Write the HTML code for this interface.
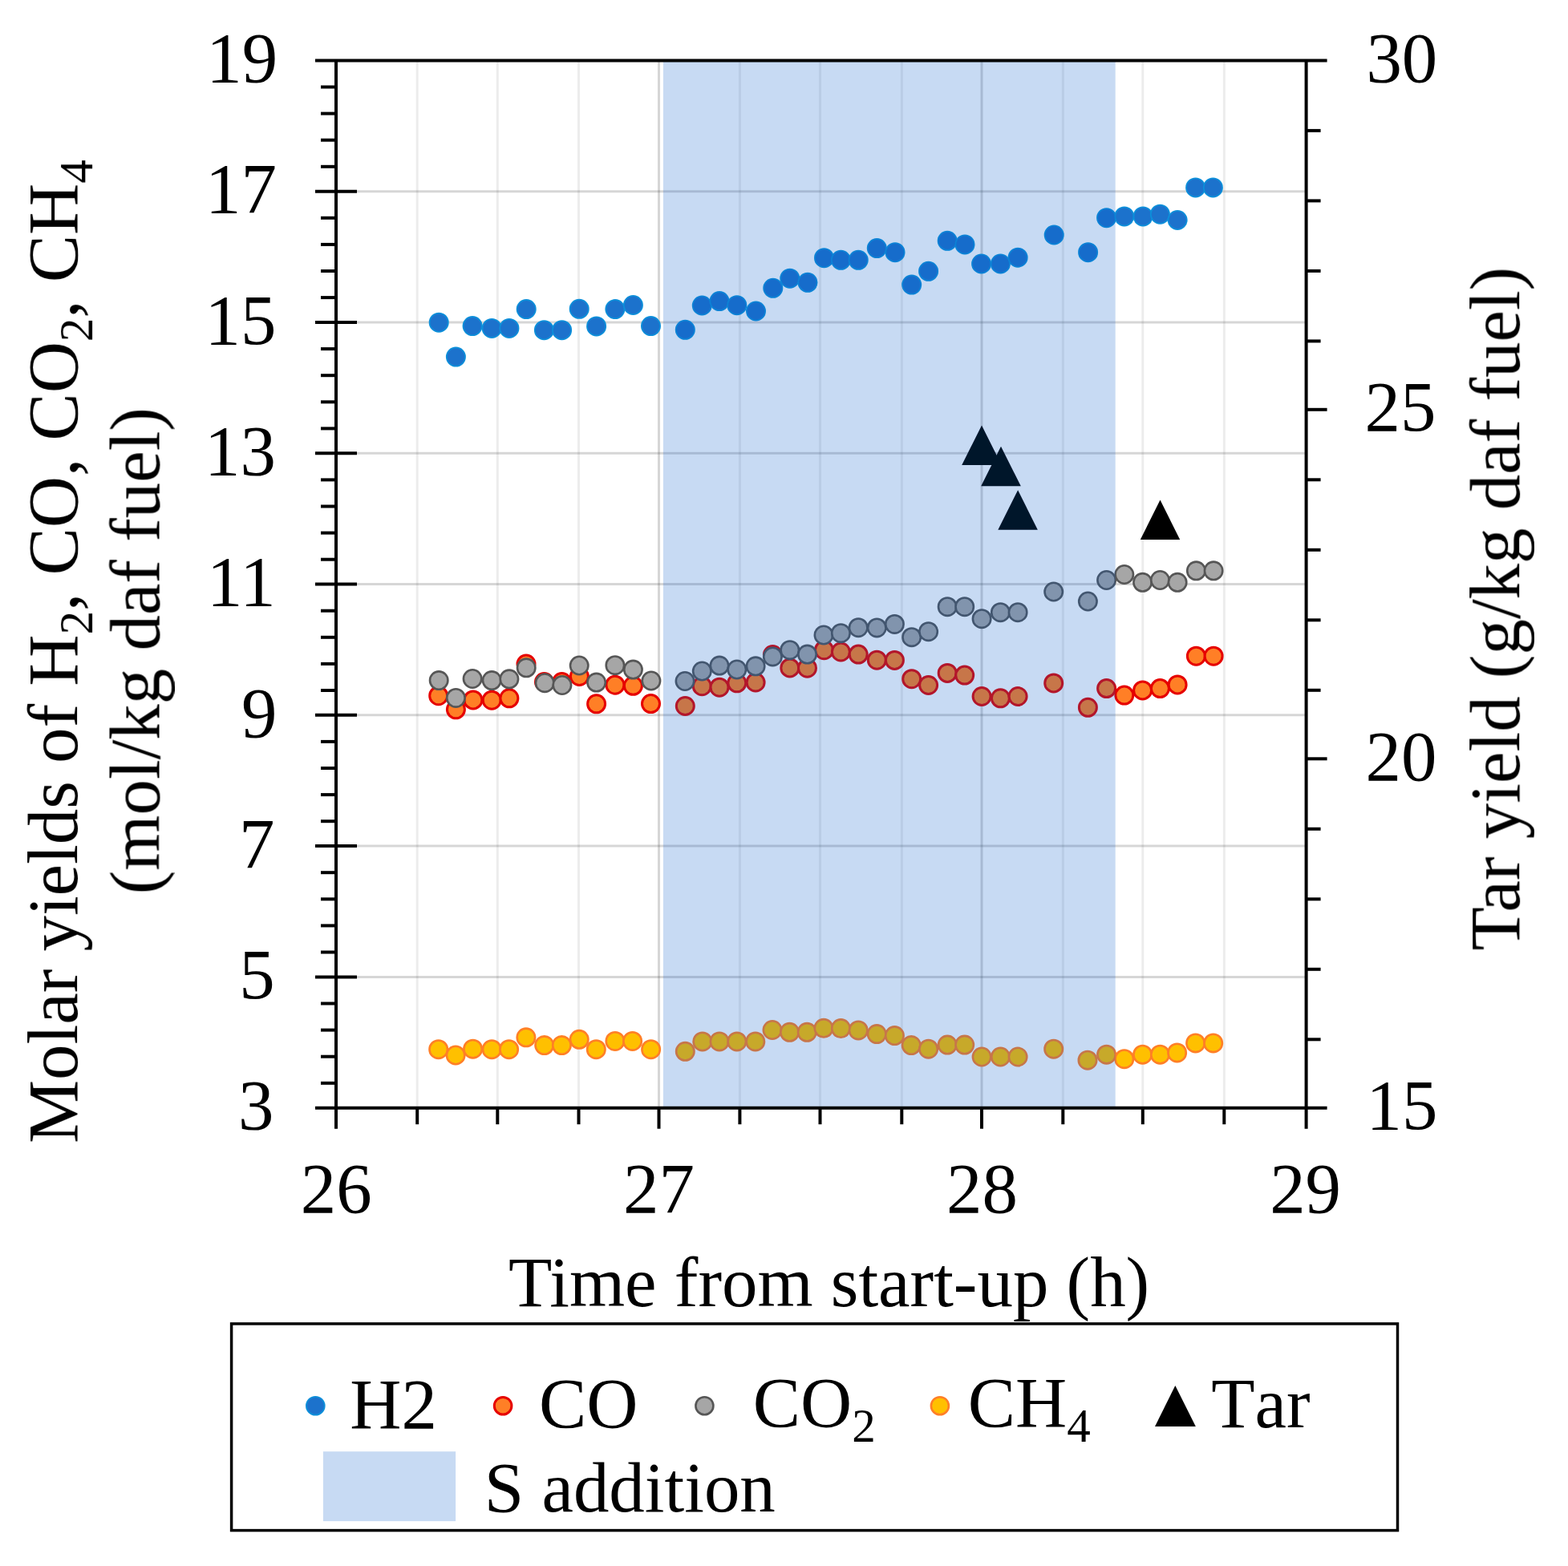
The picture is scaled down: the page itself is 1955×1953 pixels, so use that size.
<!DOCTYPE html>
<html><head><meta charset="utf-8"><title>Molar yields and tar yield vs time</title>
<style>
html,body{margin:0;padding:0;background:#fff;}
svg{display:block;}
text{font-family:"Liberation Serif", "Times New Roman", serif;fill:#000;}
.nk{font-kerning:none;font-feature-settings:"kern" 0;}
</style></head><body>
<svg width="1955" height="1953" viewBox="0 0 1955 1953">
<defs><filter id="soft" x="0" y="0" width="100%" height="100%" filterUnits="userSpaceOnUse"><feGaussianBlur stdDeviation="0.5"/></filter></defs>
<rect x="0" y="0" width="1955" height="1953" fill="#fff"/>
<g filter="url(#soft)">
<g stroke="#000" stroke-opacity="0.075" stroke-width="3"><line x1="520.2" y1="75.4" x2="520.2" y2="1381.7"/><line x1="620.3" y1="75.4" x2="620.3" y2="1381.7"/><line x1="721.5" y1="75.4" x2="721.5" y2="1381.7"/><line x1="922.4" y1="75.4" x2="922.4" y2="1381.7"/><line x1="1022.5" y1="75.4" x2="1022.5" y2="1381.7"/><line x1="1124.3" y1="75.4" x2="1124.3" y2="1381.7"/><line x1="1325.3" y1="75.4" x2="1325.3" y2="1381.7"/><line x1="1424.8" y1="75.4" x2="1424.8" y2="1381.7"/><line x1="1526.3" y1="75.4" x2="1526.3" y2="1381.7"/></g>
<g stroke="#000" stroke-opacity="0.16" stroke-width="3"><line x1="821.5" y1="75.4" x2="821.5" y2="1381.7"/><line x1="1224.0" y1="75.4" x2="1224.0" y2="1381.7"/><line x1="419.0" y1="1218.4" x2="1628.6" y2="1218.4"/><line x1="419.0" y1="1055.1" x2="1628.6" y2="1055.1"/><line x1="419.0" y1="891.8" x2="1628.6" y2="891.8"/><line x1="419.0" y1="728.6" x2="1628.6" y2="728.6"/><line x1="419.0" y1="565.3" x2="1628.6" y2="565.3"/><line x1="419.0" y1="402.0" x2="1628.6" y2="402.0"/><line x1="419.0" y1="238.7" x2="1628.6" y2="238.7"/></g>
<g fill="#FFC000" stroke="#FF7F27" stroke-width="2.6"><circle cx="546.7" cy="1308.7" r="11.20"/><circle cx="568.1" cy="1316.0" r="11.20"/><circle cx="589.6" cy="1308.2" r="11.20"/><circle cx="613.2" cy="1308.7" r="11.20"/><circle cx="634.6" cy="1308.7" r="11.20"/><circle cx="655.9" cy="1293.8" r="11.20"/><circle cx="678.7" cy="1303.6" r="11.20"/><circle cx="700.4" cy="1303.6" r="11.20"/><circle cx="722.2" cy="1296.3" r="11.20"/><circle cx="743.3" cy="1308.7" r="11.20"/><circle cx="766.9" cy="1298.4" r="11.20"/><circle cx="788.6" cy="1298.4" r="11.20"/><circle cx="811.6" cy="1308.7" r="11.20"/><circle cx="854.3" cy="1311.3" r="11.20"/><circle cx="875.8" cy="1298.9" r="11.20"/><circle cx="897.0" cy="1298.9" r="11.20"/><circle cx="918.8" cy="1298.9" r="11.20"/><circle cx="941.8" cy="1298.9" r="11.20"/><circle cx="963.0" cy="1284.5" r="11.20"/><circle cx="984.5" cy="1287.3" r="11.20"/><circle cx="1006.2" cy="1287.3" r="11.20"/><circle cx="1027.0" cy="1282.3" r="11.20"/><circle cx="1048.4" cy="1282.6" r="11.20"/><circle cx="1070.2" cy="1284.9" r="11.20"/><circle cx="1093.2" cy="1289.6" r="11.20"/><circle cx="1115.4" cy="1291.6" r="11.20"/><circle cx="1136.2" cy="1303.6" r="11.20"/><circle cx="1157.6" cy="1308.2" r="11.20"/><circle cx="1181.2" cy="1303.1" r="11.20"/><circle cx="1202.7" cy="1303.1" r="11.20"/><circle cx="1224.1" cy="1318.0" r="11.20"/><circle cx="1247.4" cy="1318.0" r="11.20"/><circle cx="1269.1" cy="1318.0" r="11.20"/><circle cx="1313.7" cy="1308.2" r="11.20"/><circle cx="1356.0" cy="1322.2" r="11.20"/><circle cx="1379.6" cy="1315.2" r="11.20"/><circle cx="1401.8" cy="1320.7" r="11.20"/><circle cx="1424.6" cy="1315.2" r="11.20"/><circle cx="1446.4" cy="1315.2" r="11.20"/><circle cx="1467.6" cy="1312.9" r="11.20"/><circle cx="1490.6" cy="1300.9" r="11.20"/><circle cx="1512.7" cy="1300.9" r="11.20"/></g>
<g fill="#FF7F27" stroke="#E60000" stroke-width="3.0"><circle cx="546.7" cy="867.7" r="11.00"/><circle cx="568.4" cy="884.8" r="11.00"/><circle cx="589.9" cy="872.9" r="11.00"/><circle cx="613.2" cy="873.2" r="11.00"/><circle cx="634.9" cy="870.8" r="11.00"/><circle cx="656.0" cy="828.0" r="11.00"/><circle cx="678.5" cy="850.5" r="11.00"/><circle cx="700.5" cy="850.5" r="11.00"/><circle cx="722.4" cy="843.5" r="11.00"/><circle cx="743.6" cy="877.8" r="11.00"/><circle cx="766.9" cy="854.2" r="11.00"/><circle cx="789.4" cy="855.3" r="11.00"/><circle cx="811.5" cy="877.6" r="11.00"/><circle cx="854.3" cy="880.5" r="11.00"/><circle cx="875.3" cy="855.7" r="11.00"/><circle cx="897.0" cy="857.2" r="11.00"/><circle cx="918.8" cy="851.8" r="11.00"/><circle cx="942.1" cy="851.0" r="11.00"/><circle cx="963.4" cy="816.5" r="11.00"/><circle cx="984.8" cy="832.9" r="11.00"/><circle cx="1006.5" cy="833.2" r="11.00"/><circle cx="1027.5" cy="810.7" r="11.00"/><circle cx="1048.4" cy="813.0" r="11.00"/><circle cx="1070.2" cy="816.1" r="11.00"/><circle cx="1093.3" cy="823.2" r="11.00"/><circle cx="1115.4" cy="823.4" r="11.00"/><circle cx="1136.7" cy="846.7" r="11.00"/><circle cx="1157.6" cy="854.5" r="11.00"/><circle cx="1181.2" cy="839.4" r="11.00"/><circle cx="1202.7" cy="842.1" r="11.00"/><circle cx="1224.1" cy="868.5" r="11.00"/><circle cx="1247.4" cy="870.8" r="11.00"/><circle cx="1269.1" cy="868.5" r="11.00"/><circle cx="1313.7" cy="851.9" r="11.00"/><circle cx="1356.4" cy="882.3" r="11.00"/><circle cx="1379.6" cy="858.6" r="11.00"/><circle cx="1401.8" cy="867.1" r="11.00"/><circle cx="1424.6" cy="860.9" r="11.00"/><circle cx="1446.4" cy="858.6" r="11.00"/><circle cx="1468.1" cy="853.9" r="11.00"/><circle cx="1491.4" cy="818.2" r="11.00"/><circle cx="1513.1" cy="818.2" r="11.00"/></g>
<g fill="#A6A6A6" stroke="#565656" stroke-width="2.6"><circle cx="547.2" cy="848.6" r="11.20"/><circle cx="568.4" cy="870.4" r="11.20"/><circle cx="589.1" cy="846.5" r="11.20"/><circle cx="613.2" cy="848.6" r="11.20"/><circle cx="634.9" cy="846.8" r="11.20"/><circle cx="656.2" cy="832.8" r="11.20"/><circle cx="679.2" cy="851.7" r="11.20"/><circle cx="700.9" cy="854.5" r="11.20"/><circle cx="722.2" cy="830.0" r="11.20"/><circle cx="743.6" cy="851.1" r="11.20"/><circle cx="766.9" cy="829.7" r="11.20"/><circle cx="789.4" cy="835.1" r="11.20"/><circle cx="811.9" cy="849.0" r="11.20"/><circle cx="854.0" cy="849.5" r="11.20"/><circle cx="875.3" cy="837.0" r="11.20"/><circle cx="897.0" cy="830.1" r="11.20"/><circle cx="918.8" cy="835.0" r="11.20"/><circle cx="942.1" cy="830.8" r="11.20"/><circle cx="963.4" cy="818.9" r="11.20"/><circle cx="984.8" cy="810.7" r="11.20"/><circle cx="1006.5" cy="816.1" r="11.20"/><circle cx="1027.0" cy="792.0" r="11.20"/><circle cx="1048.4" cy="789.7" r="11.20"/><circle cx="1070.2" cy="782.7" r="11.20"/><circle cx="1093.3" cy="782.9" r="11.20"/><circle cx="1115.4" cy="778.4" r="11.20"/><circle cx="1136.7" cy="794.7" r="11.20"/><circle cx="1157.6" cy="787.7" r="11.20"/><circle cx="1181.2" cy="756.7" r="11.20"/><circle cx="1202.7" cy="756.7" r="11.20"/><circle cx="1224.1" cy="771.7" r="11.20"/><circle cx="1247.4" cy="763.7" r="11.20"/><circle cx="1269.1" cy="763.7" r="11.20"/><circle cx="1313.7" cy="738.0" r="11.20"/><circle cx="1356.4" cy="750.0" r="11.20"/><circle cx="1379.6" cy="723.5" r="11.20"/><circle cx="1401.8" cy="716.5" r="11.20"/><circle cx="1424.6" cy="726.3" r="11.20"/><circle cx="1446.4" cy="723.5" r="11.20"/><circle cx="1468.1" cy="726.3" r="11.20"/><circle cx="1491.4" cy="711.8" r="11.20"/><circle cx="1513.1" cy="711.8" r="11.20"/></g>
<g fill="#1F72CC" stroke="#0B8FDA" stroke-width="1.8"><circle cx="547.2" cy="402.2" r="11.60"/><circle cx="568.4" cy="445.1" r="11.60"/><circle cx="589.1" cy="406.6" r="11.60"/><circle cx="613.2" cy="409.4" r="11.60"/><circle cx="634.9" cy="409.4" r="11.60"/><circle cx="656.2" cy="385.6" r="11.60"/><circle cx="678.4" cy="411.7" r="11.60"/><circle cx="700.6" cy="411.7" r="11.60"/><circle cx="722.2" cy="385.3" r="11.60"/><circle cx="743.6" cy="406.9" r="11.60"/><circle cx="766.9" cy="385.6" r="11.60"/><circle cx="789.4" cy="380.5" r="11.60"/><circle cx="811.5" cy="406.6" r="11.60"/><circle cx="854.3" cy="411.3" r="11.60"/><circle cx="875.3" cy="381.0" r="11.60"/><circle cx="897.0" cy="375.6" r="11.60"/><circle cx="918.8" cy="380.7" r="11.60"/><circle cx="942.5" cy="388.0" r="11.60"/><circle cx="963.8" cy="359.3" r="11.60"/><circle cx="984.8" cy="347.2" r="11.60"/><circle cx="1007.0" cy="352.3" r="11.60"/><circle cx="1027.5" cy="321.7" r="11.60"/><circle cx="1048.4" cy="324.3" r="11.60"/><circle cx="1070.2" cy="324.3" r="11.60"/><circle cx="1093.3" cy="309.6" r="11.60"/><circle cx="1116.0" cy="314.7" r="11.60"/><circle cx="1136.7" cy="355.1" r="11.60"/><circle cx="1157.6" cy="338.3" r="11.60"/><circle cx="1181.2" cy="300.3" r="11.60"/><circle cx="1203.0" cy="304.9" r="11.60"/><circle cx="1223.6" cy="329.0" r="11.60"/><circle cx="1247.4" cy="329.0" r="11.60"/><circle cx="1269.1" cy="321.2" r="11.60"/><circle cx="1314.2" cy="293.0" r="11.60"/><circle cx="1356.6" cy="314.7" r="11.60"/><circle cx="1379.6" cy="271.7" r="11.60"/><circle cx="1401.8" cy="269.9" r="11.60"/><circle cx="1425.1" cy="269.9" r="11.60"/><circle cx="1446.4" cy="267.2" r="11.60"/><circle cx="1468.1" cy="274.5" r="11.60"/><circle cx="1490.6" cy="233.9" r="11.60"/><circle cx="1512.4" cy="233.9" r="11.60"/></g>
<g fill="#000"><path d="M1224.0 530.6L1248.8 580.1L1199.2 580.1Z"/><path d="M1248.0 556.8L1272.8 606.2L1223.2 606.2Z"/><path d="M1269.1 611.2L1293.8 660.8L1244.3 660.8Z"/><path d="M1446.5 623.5L1471.2 673.0L1421.8 673.0Z"/></g>
<rect x="826.9" y="75.4" width="563.8" height="1306.3" fill="#0055C8" fill-opacity="0.22"/>
<g stroke="#000" stroke-width="4" stroke-linecap="butt"><line x1="419.0" y1="75.4" x2="419.0" y2="1407.7"/><line x1="1628.6" y1="75.4" x2="1628.6" y2="1407.7"/><line x1="393" y1="75.4" x2="1654.6" y2="75.4"/><line x1="393" y1="1381.7" x2="1654.6" y2="1381.7"/><line x1="393" y1="1218.4" x2="445.0" y2="1218.4"/><line x1="393" y1="1055.1" x2="445.0" y2="1055.1"/><line x1="393" y1="891.8" x2="445.0" y2="891.8"/><line x1="393" y1="728.6" x2="445.0" y2="728.6"/><line x1="393" y1="565.3" x2="445.0" y2="565.3"/><line x1="393" y1="402.0" x2="445.0" y2="402.0"/><line x1="393" y1="238.7" x2="445.0" y2="238.7"/><line x1="400" y1="108.5" x2="419.0" y2="108.5"/><line x1="400" y1="141.6" x2="419.0" y2="141.6"/><line x1="400" y1="174.7" x2="419.0" y2="174.7"/><line x1="400" y1="207.8" x2="419.0" y2="207.8"/><line x1="400" y1="271.8" x2="419.0" y2="271.8"/><line x1="400" y1="304.9" x2="419.0" y2="304.9"/><line x1="400" y1="338.0" x2="419.0" y2="338.0"/><line x1="400" y1="371.1" x2="419.0" y2="371.1"/><line x1="400" y1="435.1" x2="419.0" y2="435.1"/><line x1="400" y1="468.2" x2="419.0" y2="468.2"/><line x1="400" y1="501.3" x2="419.0" y2="501.3"/><line x1="400" y1="534.4" x2="419.0" y2="534.4"/><line x1="400" y1="598.4" x2="419.0" y2="598.4"/><line x1="400" y1="631.5" x2="419.0" y2="631.5"/><line x1="400" y1="664.6" x2="419.0" y2="664.6"/><line x1="400" y1="697.7" x2="419.0" y2="697.7"/><line x1="400" y1="761.7" x2="419.0" y2="761.7"/><line x1="400" y1="794.8" x2="419.0" y2="794.8"/><line x1="400" y1="827.9" x2="419.0" y2="827.9"/><line x1="400" y1="861.0" x2="419.0" y2="861.0"/><line x1="400" y1="924.9" x2="419.0" y2="924.9"/><line x1="400" y1="958.0" x2="419.0" y2="958.0"/><line x1="400" y1="991.1" x2="419.0" y2="991.1"/><line x1="400" y1="1024.2" x2="419.0" y2="1024.2"/><line x1="400" y1="1088.2" x2="419.0" y2="1088.2"/><line x1="400" y1="1121.3" x2="419.0" y2="1121.3"/><line x1="400" y1="1154.4" x2="419.0" y2="1154.4"/><line x1="400" y1="1187.5" x2="419.0" y2="1187.5"/><line x1="400" y1="1251.5" x2="419.0" y2="1251.5"/><line x1="400" y1="1284.6" x2="419.0" y2="1284.6"/><line x1="400" y1="1317.7" x2="419.0" y2="1317.7"/><line x1="400" y1="1350.8" x2="419.0" y2="1350.8"/><line x1="1628.6" y1="162.9" x2="1646.6" y2="162.9"/><line x1="1628.6" y1="250.4" x2="1646.6" y2="250.4"/><line x1="1628.6" y1="337.9" x2="1646.6" y2="337.9"/><line x1="1628.6" y1="425.4" x2="1646.6" y2="425.4"/><line x1="1628.6" y1="510.8" x2="1654.6" y2="510.8"/><line x1="1628.6" y1="598.3" x2="1646.6" y2="598.3"/><line x1="1628.6" y1="685.8" x2="1646.6" y2="685.8"/><line x1="1628.6" y1="773.3" x2="1646.6" y2="773.3"/><line x1="1628.6" y1="860.8" x2="1646.6" y2="860.8"/><line x1="1628.6" y1="946.3" x2="1654.6" y2="946.3"/><line x1="1628.6" y1="1033.8" x2="1646.6" y2="1033.8"/><line x1="1628.6" y1="1121.3" x2="1646.6" y2="1121.3"/><line x1="1628.6" y1="1208.8" x2="1646.6" y2="1208.8"/><line x1="1628.6" y1="1296.3" x2="1646.6" y2="1296.3"/><line x1="821.5" y1="1381.7" x2="821.5" y2="1407.7"/><line x1="1224.0" y1="1381.7" x2="1224.0" y2="1407.7"/><line x1="520.2" y1="1381.7" x2="520.2" y2="1402.2"/><line x1="620.3" y1="1381.7" x2="620.3" y2="1402.2"/><line x1="721.5" y1="1381.7" x2="721.5" y2="1402.2"/><line x1="922.4" y1="1381.7" x2="922.4" y2="1402.2"/><line x1="1022.5" y1="1381.7" x2="1022.5" y2="1402.2"/><line x1="1124.3" y1="1381.7" x2="1124.3" y2="1402.2"/><line x1="1325.3" y1="1381.7" x2="1325.3" y2="1402.2"/><line x1="1424.8" y1="1381.7" x2="1424.8" y2="1402.2"/><line x1="1526.3" y1="1381.7" x2="1526.3" y2="1402.2"/></g>
<g font-size="88.9"><text x="346.2" y="102.1" text-anchor="end">19</text><text x="344.9" y="265.4" text-anchor="end">17</text><text x="344.4" y="428.7" text-anchor="end">15</text><text x="344.0" y="592.0" text-anchor="end">13</text><text x="343.6" y="755.3" text-anchor="end">11</text><text x="345.4" y="918.5" text-anchor="end">9</text><text x="342.4" y="1081.8" text-anchor="end">7</text><text x="342.6" y="1245.1" text-anchor="end">5</text><text x="341.5" y="1408.4" text-anchor="end">3</text><text x="1703.4" y="101.9">30</text><text x="1701.5" y="537.3">25</text><text x="1702.5" y="972.8">20</text><text x="1703.6" y="1408.2">15</text><text x="419.2" y="1512.3" text-anchor="middle">26</text><text x="821.4" y="1512.3" text-anchor="middle">27</text><text x="1224.4" y="1512.3" text-anchor="middle">28</text><text x="1627.6" y="1512.3" text-anchor="middle">29</text></g>
<text font-size="88.9" transform="translate(96.1,1425.9) rotate(-90)">Molar yields of H<tspan font-size="59" dy="18.6">2</tspan><tspan dy="-18.6">, CO, CO</tspan><tspan font-size="59" dy="18.6">2</tspan><tspan dy="-18.6">, CH</tspan><tspan font-size="59" dy="18.6">4</tspan></text>
<text font-size="88.9" transform="translate(198.5,1115.3) rotate(-90)">(mol/kg daf fuel)</text>
<text font-size="88.9" transform="translate(1894.2,1185.5) rotate(-90)">Tar yield (g/kg daf fuel)</text>
<text font-size="88.9" x="634.1" y="1629.1">Time from start-up (h)</text>
<rect x="288.6" y="1650.9" width="1453.9" height="257.7" fill="none" stroke="#000" stroke-width="3.5"/><circle cx="393.3" cy="1753.2" r="11.40" fill="#1F72CC" stroke="#0B8FDA" stroke-width="1.8"/><circle cx="627.1" cy="1753.2" r="10.80" fill="#FF7F27" stroke="#E60000" stroke-width="3.0"/><circle cx="878.4" cy="1753.2" r="11.00" fill="#A6A6A6" stroke="#565656" stroke-width="2.6"/><circle cx="1171.9" cy="1753.2" r="11.00" fill="#FFC000" stroke="#FF7F27" stroke-width="2.6"/><path d="M1465.3 1728L1490.8 1779L1440 1779Z" fill="#000"/><rect x="402.9" y="1810.2" width="165.2" height="86.9" fill="#C7DAF3"/><g font-size="88.9"><text x="436.2" y="1780.6">H2</text><text x="671.9" y="1780.1">CO</text><text x="938.7" y="1779.2">CO<tspan font-size="59" dy="18.6">2</tspan></text><text x="1206.7" y="1779.2">CH<tspan font-size="59" dy="18.6">4</tspan></text><text class="nk" x="1510.2" y="1780.2">Tar</text><text x="603.8" y="1885.2">S addition</text></g>
</g>
</svg>
</body></html>
